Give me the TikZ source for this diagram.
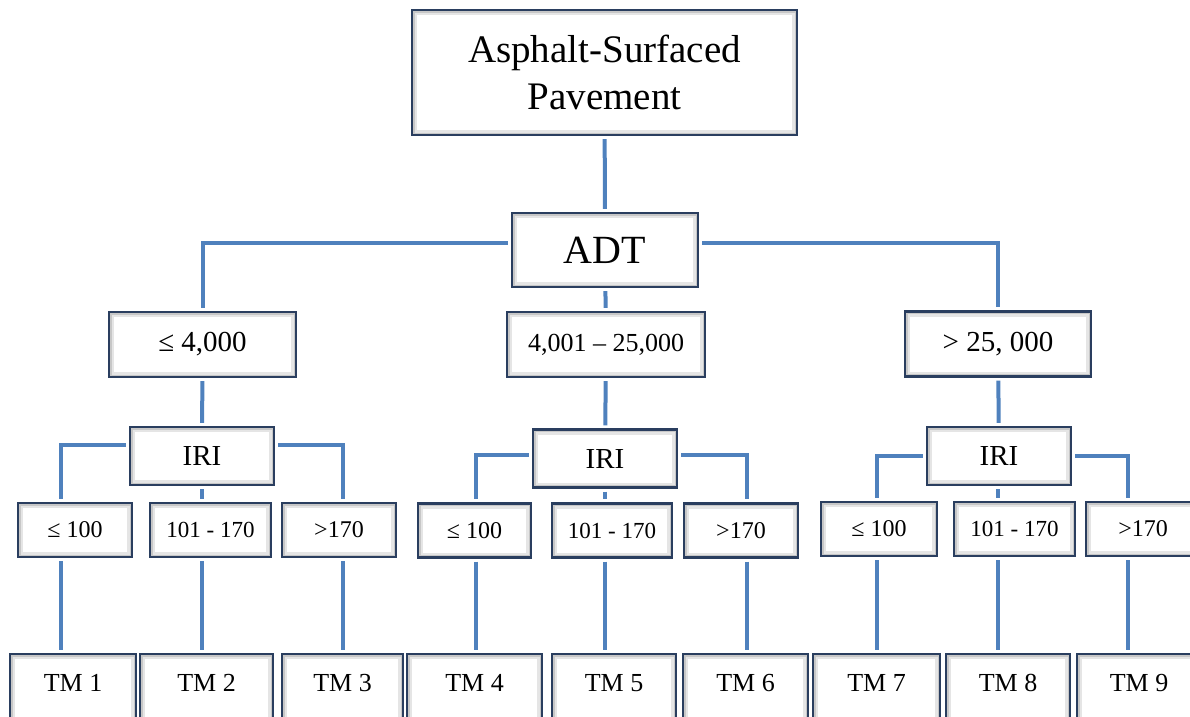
\documentclass[tikz,border=0pt]{standalone}
\usepackage{fontspec}
\setmainfont{Liberation Serif}
\usetikzlibrary{positioning}
\usetikzlibrary{calc}
\definecolor{linkblue}{RGB}{79,129,189}
\definecolor{boxedge}{RGB}{42,62,95}
\tikzset{box/.style={draw=boxedge, line width=2.4pt, fill=white, align=center, inner sep=0pt,
    path picture={\draw[black!10, line width=10pt] (path picture bounding box.south west) rectangle (path picture bounding box.north east);
                  \draw[black!22, line width=5pt] (path picture bounding box.south west) rectangle (path picture bounding box.north east);}}}
\tikzset{ibox/.style={box, minimum height=58pt, minimum width=144pt, font=\fontsize{29}{34}\selectfont}}
\tikzset{rbox/.style={box, minimum height=54pt, font=\fontsize{23}{28}\selectfont}}
\tikzset{tmbox/.style={box, minimum height=80pt, text height=18pt, text depth=24pt, font=\fontsize{26}{31}\selectfont}}
\tikzset{link/.style={draw=linkblue, line width=4pt, shorten <=3pt, shorten >=3pt}}

\begin{document}
\begin{tikzpicture}[x=1pt, y=-1pt]
        \useasboundingbox (0,0) rectangle (1190,716);
        \clip (0,0) rectangle (1190,716);
        % root and ADT
        \node[box, minimum width=385pt, minimum height=125pt, font=\fontsize{39}{47}\selectfont] (Pav) at (604.5,72.5) {Asphalt-Surfaced\\Pavement};
        \node[box, minimum width=186pt, minimum height=74pt, font=\fontsize{40}{46}\selectfont] (ADT) at (605,250) {ADT};
        % ADT classes
        \node[box, minimum width=187pt, minimum height=65pt, font=\fontsize{29}{34}\selectfont] (A1) at (202.5,344.5) {≤ 4,000};
        \node[box, minimum width=198pt, minimum height=65pt, font=\fontsize{26}{31}\selectfont] (A2) at (606,344.5) {4,001 – 25,000};
        \node[box, minimum width=186pt, minimum height=65pt, font=\fontsize{29}{34}\selectfont] (A3) at (998,344) {> 25, 000};
        % IRI
        \node[ibox] (I1) at (202,456) {IRI};
        \node[ibox] (I2) at (605,458.5) {IRI};
        \node[ibox] (I3) at (999,456) {IRI};
        % IRI classes
        \node[rbox, minimum width=114pt, font=\fontsize{24}{28}\selectfont] (R11) at (75,530) {≤ 100};
        \node[rbox, minimum width=121pt] (R12) at (210.5,530) {101 - 170};
        \node[rbox, minimum width=114pt, font=\fontsize{24}{28}\selectfont] (R13) at (339,530) {>170};
        \node[rbox, minimum width=113pt, font=\fontsize{24}{28}\selectfont] (R21) at (474.5,530.5) {≤ 100};
        \node[rbox, minimum width=120pt] (R22) at (612,530.5) {101 - 170};
        \node[rbox, minimum width=114pt, font=\fontsize{24}{28}\selectfont] (R23) at (741,530.5) {>170};
        \node[rbox, minimum width=116pt, font=\fontsize{24}{28}\selectfont] (R31) at (879,529) {≤ 100};
        \node[rbox, minimum width=121pt] (R32) at (1014.5,529) {101 - 170};
        \node[rbox, minimum width=114pt, font=\fontsize{24}{28}\selectfont] (R33) at (1143,529) {>170};
        % treatment models
        \node[tmbox, minimum width=126pt] (TM1) at (73,694) {TM 1};
        \node[tmbox, minimum width=133pt] (TM2) at (206.5,694) {TM 2};
        \node[tmbox, minimum width=121pt] (TM3) at (342.5,694) {TM 3};
        \node[tmbox, minimum width=135pt] (TM4) at (474.5,694) {TM 4};
        \node[tmbox, minimum width=124pt] (TM5) at (614,694) {TM 5};
        \node[tmbox, minimum width=125pt] (TM6) at (745.5,694) {TM 6};
        \node[tmbox, minimum width=127pt] (TM7) at (876.5,694) {TM 7};
        \node[tmbox, minimum width=124pt] (TM8) at (1008,694) {TM 8};
        \node[tmbox, minimum width=124pt] (TM9) at (1139,694) {TM 9};
        % branch lines
        \coordinate (b11) at (61,0);
        \coordinate (b12) at (202,0);
        \coordinate (b13) at (343,0);
        \coordinate (b21) at (476,0);
        \coordinate (b22) at (605,0);
        \coordinate (b23) at (747,0);
        \coordinate (b31) at (877,0);
        \coordinate (b32) at (998,0);
        \coordinate (b33) at (1128,0);
        \draw[link] (Pav) -- (ADT);
        \draw[link] ([yshift=7pt]ADT.west) -| (A1);
        \draw[link] (ADT) -- (A2);
        \draw[link] ([yshift=7pt]ADT.east) -| (A3);
        \draw[link] (A1) -- (I1);
        \draw[link] (A2) -- (I2);
        \draw[link] (A3) -- (I3);
        \draw[link] ([yshift=11pt]I1.west) -| (b11 |- R11.north);
        \draw[link] (b12 |- I1.south) -- (b12 |- R12.north);
        \draw[link] ([yshift=11pt]I1.east) -| (b13 |- R13.north);
        \draw[link] ([yshift=3.5pt]I2.west) -| (b21 |- R21.north);
        \draw[link] (b22 |- I2.south) -- (b22 |- R22.north);
        \draw[link] ([yshift=3.5pt]I2.east) -| (b23 |- R23.north);
        \draw[link] (I3.west) -| (b31 |- R31.north);
        \draw[link] (b32 |- I3.south) -- (b32 |- R32.north);
        \draw[link] (I3.east) -| (b33 |- R33.north);
        \draw[link] (b11 |- R11.south) -- (b11 |- TM1.north);
        \draw[link] (b12 |- R12.south) -- (b12 |- TM2.north);
        \draw[link] (b13 |- R13.south) -- (b13 |- TM3.north);
        \draw[link] (b21 |- R21.south) -- (b21 |- TM4.north);
        \draw[link] (b22 |- R22.south) -- (b22 |- TM5.north);
        \draw[link] (b23 |- R23.south) -- (b23 |- TM6.north);
        \draw[link] (b31 |- R31.south) -- (b31 |- TM7.north);
        \draw[link] (b32 |- R32.south) -- (b32 |- TM8.north);
        \draw[link] (b33 |- R33.south) -- (b33 |- TM9.north);
    \end{tikzpicture}
\end{document}
